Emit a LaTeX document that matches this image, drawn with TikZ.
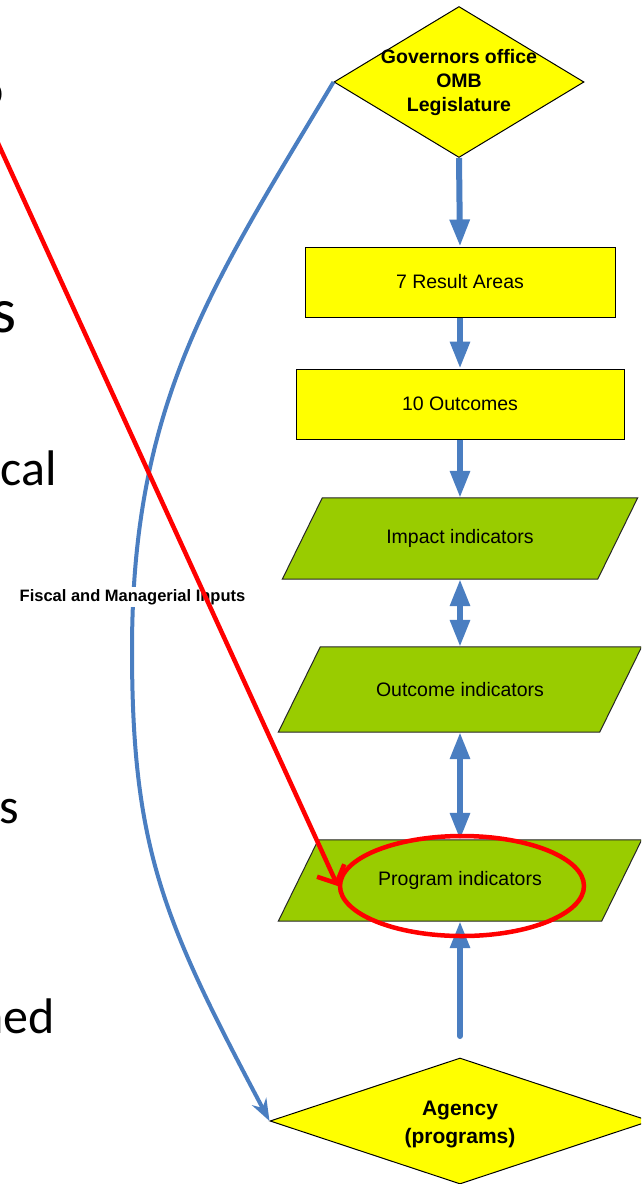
\documentclass[tikz,border=0pt]{standalone}
\usepackage{fontspec}
\setmainfont{Liberation Sans}
\newfontfamily\calf{Carlito}
\usetikzlibrary{arrows.meta,shapes.geometric,calc}
\definecolor{ylw}{RGB}{255,255,0}
\definecolor{grn}{RGB}{153,204,0}
\definecolor{blu}{RGB}{74,126,193}
\definecolor{rd}{RGB}{255,0,0}
\begin{document}
\begin{tikzpicture}[x=1pt,y=-1pt,
  txt/.style={inner sep=0pt, font=\fontsize{19.5}{23}\selectfont},
  ybox/.style={draw=black, line width=1pt, fill=ylw, inner sep=0pt, minimum height=70pt, font=\fontsize{19.5}{23}\selectfont},
  ydia/.style={diamond, draw=black, line width=1pt, fill=ylw, inner sep=0pt},
  pghold/.style={inner sep=0pt, minimum height=#1},
  pgram/.style={draw=black!85, line width=1pt, fill=grn},
  bigarrow/.style={draw=blu, line width=6pt, -{Triangle[length=27pt,width=19pt]}},
  bigdouble/.style={draw=blu, line width=6pt, {Triangle[length=27pt,width=19pt]}-{Triangle[length=27pt,width=19pt]}},
  frag/.style={inner sep=0pt, anchor=base east, font=\calf\fontsize{50}{60}\selectfont}
]
\useasboundingbox (0,0) rectangle (641,1184);
\clip (0,0) rectangle (641,1184);
\fill[white] (0,0) rectangle (641,1184);

% left text fragments
\node[frag] (fa) at (4,106) {o};
\node[frag, font=\calf\fontsize{64}{70}\selectfont] (fb) at (17,332) {s};
\node[frag] (fc) at (57,485) {cal};
\node[frag] (fd) at (19,823) {rs};
\node[frag] (fe) at (55,1033) {ned};

% top diamond
\node[ydia, minimum width=250pt, minimum height=151pt] (gov) at (459,82) {};
\node[inner sep=0pt, align=center, font=\bfseries\fontsize{19.5}{24}\selectfont] (govtxt) at (gov.center) {Governors office\\OMB\\Legislature};

% boxes
\node[ybox, minimum width=310pt] (res) at (460,282) {7 Result Areas};
\node[ybox, minimum width=328pt] (oc) at (460,404) {10 Outcomes};

% parallelograms
\node[pghold=81pt, minimum width=315pt] (imp) at (460,538.5) {};
\draw[pgram] ($(imp.north west)+(20,0)$) -- ($(imp.north east)+(20,0)$) -- ($(imp.south east)+(-20,0)$) -- ($(imp.south west)+(-20,0)$) -- cycle;
\node[txt] (imptxt) at (imp.center) {Impact indicators};

\node[pghold=85pt, minimum width=321pt] (outi) at (460,689.5) {};
\draw[pgram] ($(outi.north west)+(21,0)$) -- ($(outi.north east)+(21,0)$) -- ($(outi.south east)+(-21,0)$) -- ($(outi.south west)+(-21,0)$) -- cycle;
\node[txt] (outtxt) at (outi.center) {Outcome indicators};

\node[pghold=81pt, minimum width=323pt] (prog) at (460,880.5) {};
\draw[pgram] ($(prog.north west)+(20,0)$) -- ($(prog.north east)+(20,0)$) -- ($(prog.south east)+(-20,0)$) -- ($(prog.south west)+(-20,0)$) -- cycle;
\node[txt] (progtxt) at (prog.center) {Program indicators};

% bottom diamond
\node[ydia, minimum width=380pt, minimum height=126pt] (ag) at (460,1121) {};
\node[inner sep=0pt, align=center, font=\bfseries\fontsize{21}{28}\selectfont] (agtxt) at (460,1124) {Agency\\(programs)};

% vertical blue arrows
\draw[bigarrow] (gov.south) -- (res.north);
\draw[bigarrow] (res.south) -- (oc.north);
\draw[bigarrow] (oc.south) -- (imp.north);
\draw[bigdouble] (imp.south) -- (outi.north);
\draw[bigdouble] (outi.south) -- (prog.north);
\coordinate (upstart) at (460,1036);
\draw[bigarrow, line cap=round] (upstart) -- (prog.south);

% curved feedback arrow
\coordinate (bend) at (132,650);
\draw[blu, line width=4pt, -{Stealth[length=22pt,width=16pt]}] (gov.west) .. controls (214,282) and (132,400) .. (bend) .. controls (132,850) and (164,922) .. (ag.west);

\node[fill=white, inner sep=2pt, font=\bfseries\fontsize{16.5}{18}\selectfont] (fiscal) at (132.5,597) {Fiscal and Managerial Inputs};

% red highlight
\node[ellipse, draw=rd, line width=4.5pt, minimum width=244pt, minimum height=100pt, inner sep=0pt] (ring) at (462,886) {};
\coordinate (redstart) at (-30,82);
\draw[rd, line width=4.5pt, -{Straight Barb[length=14pt,width=30pt]}] (redstart) -- (ring.west);
\end{tikzpicture}
\end{document}
